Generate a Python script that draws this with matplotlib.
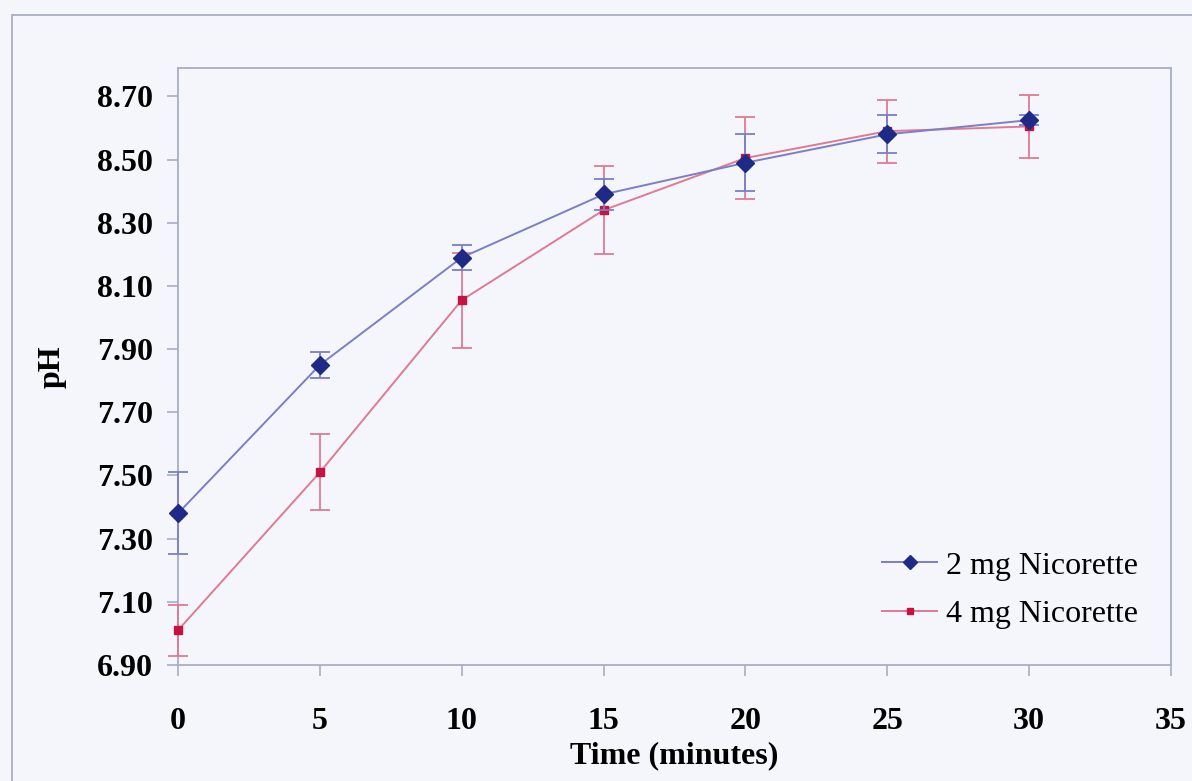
import matplotlib.pyplot as plt
from matplotlib.lines import Line2D
from matplotlib.patches import Rectangle

# pH of saliva over time for two gum strengths (mean +/- SD)
time_min = [0, 5, 10, 15, 20, 25, 30]
ph_2mg = [7.38, 7.85, 8.19, 8.39, 8.49, 8.58, 8.625]
err_2mg = [0.13, 0.04, 0.04, 0.05, 0.09, 0.06, 0.015]
ph_4mg = [7.01, 7.51, 8.055, 8.34, 8.505, 8.59, 8.605]
err_4mg = [0.08, 0.12, 0.15, 0.14, 0.13, 0.10, 0.10]

x_ticks = [0, 5, 10, 15, 20, 25, 30, 35]
y_ticks = [6.90, 7.10, 7.30, 7.50, 7.70, 7.90, 8.10, 8.30, 8.50, 8.70]

bg = '#f5f6fb'
frame = '#a9adc6'
blue_line, blue_mark = '#7a7fc6', '#1e2a86'
red_line, red_mark = '#e07a92', '#c6123e'
plt.rcParams['font.family'] = ['Liberation Serif', 'DejaVu Serif']

fig = plt.figure(figsize=(11.92, 7.81), dpi=100, facecolor=bg)
# chart-area border
fig.patches.append(Rectangle((12 / 1192, -0.1), 1.2, 1 - 15 / 781 + 0.1,
                             transform=fig.transFigure, fill=False,
                             edgecolor=frame, linewidth=1.3))

ax = fig.add_axes([178 / 1192, 1 - 665 / 781, (1171 - 178) / 1192, (665 - 68) / 781])
ax.set_facecolor(bg)

for ph, err, lc, mc, mk, ms, z in [
        (ph_2mg, err_2mg, blue_line, blue_mark, 'D', 9, 4),
        (ph_4mg, err_4mg, red_line, red_mark, 's', 6, 3)]:
    artists = ax.errorbar(time_min, ph, yerr=err, color=lc, linewidth=1.4,
                          marker=mk, markersize=ms, markerfacecolor=mc,
                          markeredgecolor=mc, ecolor=lc, elinewidth=1.3,
                          capsize=7, capthick=1.3, zorder=z)
    artists.lines[0].set_clip_on(False)
    for a in artists.lines[1] + artists.lines[2]:
        a.set_clip_on(False)

ax.set_xlim(0, 35)
ax.set_ylim(6.90, 8.79)
ax.set_xticks(x_ticks)
ax.set_yticks(y_ticks)
ax.set_yticklabels([f'{v:.2f}' for v in y_ticks])

for s in ax.spines.values():
    s.set_color(frame)
    s.set_linewidth(1.3)
    s.set_zorder(1)
ax.tick_params(direction='out', length=8, width=1.2, color=frame,
               labelsize=23, pad=10)
for lbl in ax.get_xticklabels() + ax.get_yticklabels():
    lbl.set_fontweight('bold')
ax.tick_params(axis='x', pad=22)

ax.set_xlabel('Time (minutes)', fontsize=23, fontweight='bold', labelpad=4)
ax.set_ylabel('pH', fontsize=23, fontweight='bold', labelpad=22)

handles = [Line2D([], [], color=blue_line, linewidth=1.4, marker='D',
                  markersize=7, markerfacecolor=blue_mark, markeredgecolor=blue_mark),
           Line2D([], [], color=red_line, linewidth=1.4, marker='s',
                  markersize=5, markerfacecolor=red_mark, markeredgecolor=red_mark)]
ax.legend(handles, ['2 mg Nicorette', '4 mg Nicorette'], loc='lower right',
          bbox_to_anchor=(0.996, 0.012), frameon=False, fontsize=23,
          handlelength=1.7, handletextpad=0.3, labelspacing=0.6)

fig.savefig('out.png', dpi=100, facecolor=bg)
